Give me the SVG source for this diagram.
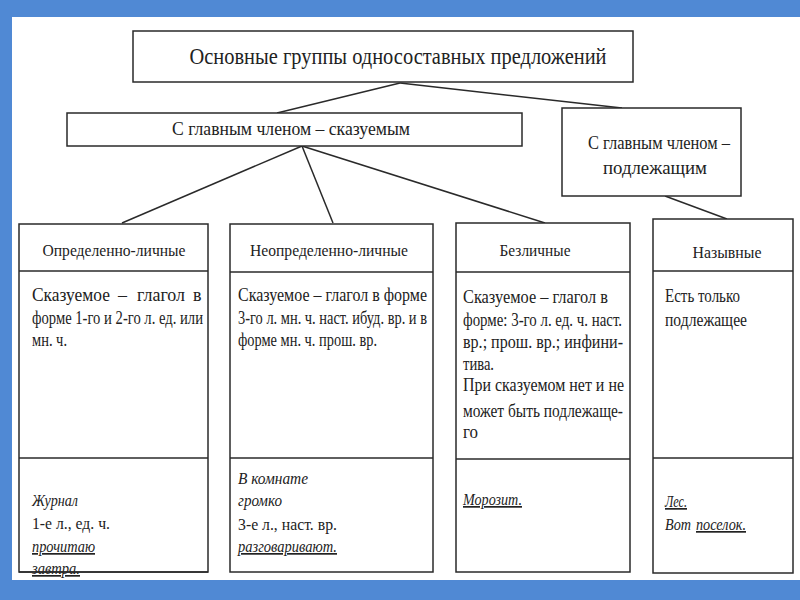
<svg xmlns="http://www.w3.org/2000/svg" width="800" height="600" viewBox="0 0 800 600">
<style>
.box{fill:#fff;stroke:#2a2a2a;stroke-width:1.5}
.sep{stroke:#2a2a2a;stroke-width:1.5}
.con{stroke:#2a2a2a;stroke-width:1.5;fill:none}
text{font-family:"Liberation Serif","DejaVu Serif",serif;fill:#222}
.t{font-size:24px}
.h{font-size:18px}
.c{font-size:16px}
.b{font-size:18px}
.i{font-size:17px;font-style:italic}
.e{font-size:17px}
.u{text-decoration:underline}
</style>
<rect x="0" y="0" width="800" height="600" fill="#5089d4"/>
<rect x="12" y="17" width="788" height="563" fill="#fff"/>
<g id="connectors">
<line class="con" x1="400" y1="83" x2="277" y2="113"/>
<line class="con" x1="400" y1="83" x2="622" y2="108"/>
<line class="con" x1="302" y1="146" x2="122" y2="223"/>
<line class="con" x1="302" y1="146" x2="333" y2="223" stroke-width="1"/>
<line class="con" x1="302" y1="146" x2="545" y2="223"/>
<line class="con" x1="665" y1="196" x2="727" y2="219"/>
</g>
<g id="root">
<rect class="box" x="133" y="31" width="500" height="51"/>
<text class="t" x="398" y="64" text-anchor="middle" textLength="417" lengthAdjust="spacingAndGlyphs">Основные группы односоставных предложений</text>
</g>
<g id="predicate">
<rect class="box" x="67" y="113" width="455" height="33"/>
<text class="h" x="291" y="135" text-anchor="middle" textLength="238" lengthAdjust="spacingAndGlyphs">С главным членом – сказуемым</text>
</g>
<g id="subject">
<rect class="box" x="562" y="108" width="179" height="88"/>
<text class="h" x="659" y="149" text-anchor="middle" textLength="142" lengthAdjust="spacingAndGlyphs">С главным членом –</text>
<text class="h" x="655" y="174" text-anchor="middle" textLength="104" lengthAdjust="spacingAndGlyphs">подлежащим</text>
</g>
<g id="definite">
<rect class="box" x="19" y="224" width="189" height="348"/>
<line class="sep" x1="19" y1="271" x2="208" y2="271"/>
<line class="sep" x1="19" y1="458" x2="208" y2="458"/>
<text class="c" x="114" y="256" text-anchor="middle" textLength="143" lengthAdjust="spacingAndGlyphs">Определенно-личные</text>
<text class="b" x="32" y="301" textLength="78" lengthAdjust="spacingAndGlyphs">Сказуемое</text>
<text class="b" x="118" y="301">–</text>
<text class="b" x="137" y="301" textLength="48" lengthAdjust="spacingAndGlyphs">глагол</text>
<text class="b" x="193" y="301">в</text>
<text class="b" x="32" y="324" textLength="171" lengthAdjust="spacingAndGlyphs">форме 1-го и 2-го л. ед. или</text>
<text class="b" x="32" y="346" textLength="35" lengthAdjust="spacingAndGlyphs">мн. ч.</text>
<text class="i" x="32" y="506" textLength="46" lengthAdjust="spacingAndGlyphs">Журнал</text>
<text class="e" x="32" y="529" textLength="78" lengthAdjust="spacingAndGlyphs">1-е л., ед. ч.</text>
<text class="i u" x="32" y="552" textLength="63" lengthAdjust="spacingAndGlyphs">прочитаю</text>
<text class="i u" x="32" y="574" textLength="48" lengthAdjust="spacingAndGlyphs">завтра.</text>
<line class="sep" x1="19" y1="572" x2="208" y2="572"/>
</g>
<g id="indefinite">
<rect class="box" x="230" y="224" width="203" height="348"/>
<line class="sep" x1="230" y1="272" x2="433" y2="272"/>
<line class="sep" x1="230" y1="458" x2="433" y2="458"/>
<text class="c" x="329" y="256" text-anchor="middle" textLength="158" lengthAdjust="spacingAndGlyphs">Неопределенно-личные</text>
<text class="b" x="238" y="301" textLength="189" lengthAdjust="spacingAndGlyphs">Сказуемое – глагол в форме</text>
<text class="b" x="238" y="324" textLength="189" lengthAdjust="spacingAndGlyphs">3-го л. мн. ч. наст. ибуд. вр. и в</text>
<text class="b" x="238" y="346" textLength="139" lengthAdjust="spacingAndGlyphs">форме мн. ч. прош. вр.</text>
<text class="i" x="238" y="484" textLength="70" lengthAdjust="spacingAndGlyphs">В комнате</text>
<text class="i" x="238" y="506" textLength="44" lengthAdjust="spacingAndGlyphs">громко</text>
<text class="e" x="238" y="530" textLength="99" lengthAdjust="spacingAndGlyphs">3-е л., наст. вр.</text>
<text class="i u" x="238" y="552" textLength="99" lengthAdjust="spacingAndGlyphs">разговаривают.</text>
</g>
<g id="impersonal">
<rect class="box" x="456" y="223" width="174" height="349"/>
<line class="sep" x1="456" y1="272" x2="630" y2="272"/>
<line class="sep" x1="456" y1="459" x2="630" y2="459"/>
<text class="c" x="535" y="256" text-anchor="middle" textLength="71" lengthAdjust="spacingAndGlyphs">Безличные</text>
<text class="b" x="463" y="303" textLength="145" lengthAdjust="spacingAndGlyphs">Сказуемое – глагол в</text>
<text class="b" x="463" y="326" textLength="159" lengthAdjust="spacingAndGlyphs">форме: 3-го л. ед. ч. наст.</text>
<text class="b" x="463" y="348" textLength="160" lengthAdjust="spacingAndGlyphs">вр.; прош. вр.; инфини-</text>
<text class="b" x="463" y="370" textLength="31" lengthAdjust="spacingAndGlyphs">тива.</text>
<text class="b" x="463" y="391" textLength="161" lengthAdjust="spacingAndGlyphs">При сказуемом нет и не</text>
<text class="b" x="463" y="417" textLength="160" lengthAdjust="spacingAndGlyphs">может быть подлежаще-</text>
<text class="b" x="463" y="438" textLength="15" lengthAdjust="spacingAndGlyphs">го</text>
<text class="i u" x="463" y="505" textLength="59" lengthAdjust="spacingAndGlyphs">Морозит.</text>
</g>
<g id="nominative">
<rect class="box" x="653" y="219" width="140" height="354"/>
<line class="sep" x1="653" y1="271" x2="793" y2="271"/>
<line class="sep" x1="653" y1="458" x2="793" y2="458"/>
<text class="c" x="727" y="258" text-anchor="middle" textLength="69" lengthAdjust="spacingAndGlyphs">Назывные</text>
<text class="b" x="665" y="302" textLength="75" lengthAdjust="spacingAndGlyphs">Есть только</text>
<text class="b" x="665" y="326" textLength="82" lengthAdjust="spacingAndGlyphs">подлежащее</text>
<text class="i u" x="665" y="507" textLength="22" lengthAdjust="spacingAndGlyphs">Лес.</text>
<text class="i" x="665" y="530" textLength="26" lengthAdjust="spacingAndGlyphs">Вот</text>
<text class="i u" x="696" y="530" textLength="50" lengthAdjust="spacingAndGlyphs">поселок.</text>
</g>
</svg>
